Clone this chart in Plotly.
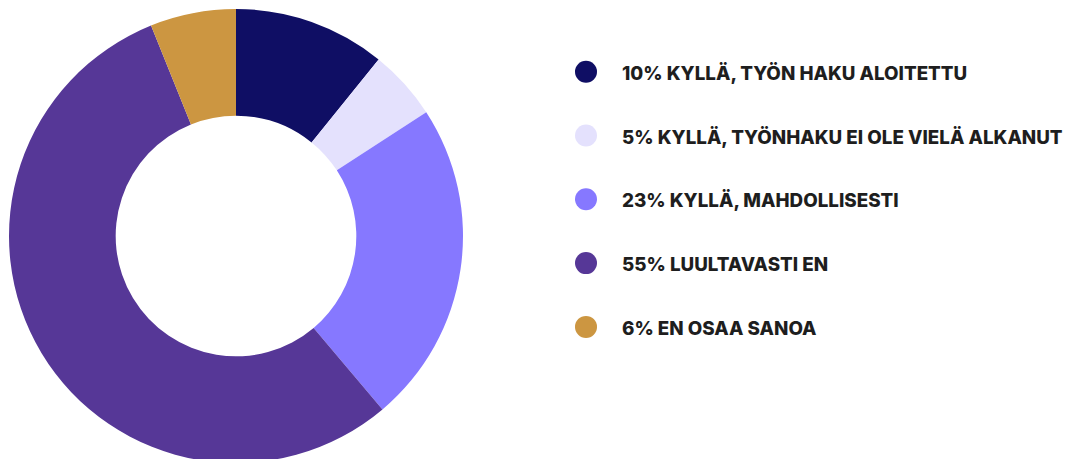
import plotly.graph_objects as go

# Data
categories = [
    "KYLLÄ, TYÖN HAKU ALOITETTU",
    "KYLLÄ, TYÖNHAKU EI OLE VIELÄ ALKANUT",
    "KYLLÄ, MAHDOLLISESTI",
    "LUULTAVASTI EN",
    "EN OSAA SANOA",
]
values = [10.8, 5.0, 23.0, 55.0, 6.1]
pct_labels = ["10%", "5%", "23%", "55%", "6%"]
colors = ["#0f0e64", "#e4e1fd", "#8678ff", "#563797", "#cc9641"]

W, H = 1085, 459
OFF = 8  # page body margin offset

fig = go.Figure()
fig.add_trace(go.Pie(
    labels=categories,
    values=values,
    hole=0.53,
    sort=False,
    direction="clockwise",
    rotation=0,
    textinfo="none",
    hoverinfo="label+percent",
    marker=dict(colors=colors, line=dict(width=0)),
    showlegend=False,
    domain=dict(x=[(9 - OFF) / W, (463 - OFF) / W],
                y=[1 - (463 - OFF) / H, 1 - (9 - OFF) / H]),
))

# Custom legend with circular markers
row0 = 71.7 - OFF
row_gap = 63.8
marker_cx = 586 - OFF
marker_r = 11
text_x = 620 - OFF
shapes = []
annotations = []
for i, (cat, pct, col) in enumerate(zip(categories, pct_labels, colors)):
    cy = row0 + i * row_gap
    shapes.append(dict(
        type="circle", xref="paper", yref="paper",
        x0=(marker_cx - marker_r) / W, x1=(marker_cx + marker_r) / W,
        y0=1 - (cy + marker_r) / H, y1=1 - (cy - marker_r) / H,
        fillcolor=col, line=dict(width=0),
    ))
    annotations.append(dict(
        x=text_x / W, y=1 - (cy + 1.5) / H, xref="paper", yref="paper",
        xanchor="left", yanchor="middle", showarrow=False,
        text=f"{pct} {cat}",
        font=dict(family="Inter, Roboto, sans-serif", size=18.8, color="#1e1e1e", weight=800),
    ))

fig.update_layout(
    width=W, height=H,
    margin=dict(l=0, r=0, t=0, b=0),
    paper_bgcolor="white",
    plot_bgcolor="white",
    shapes=shapes,
    annotations=annotations,
)

fig.write_html("out.html")
